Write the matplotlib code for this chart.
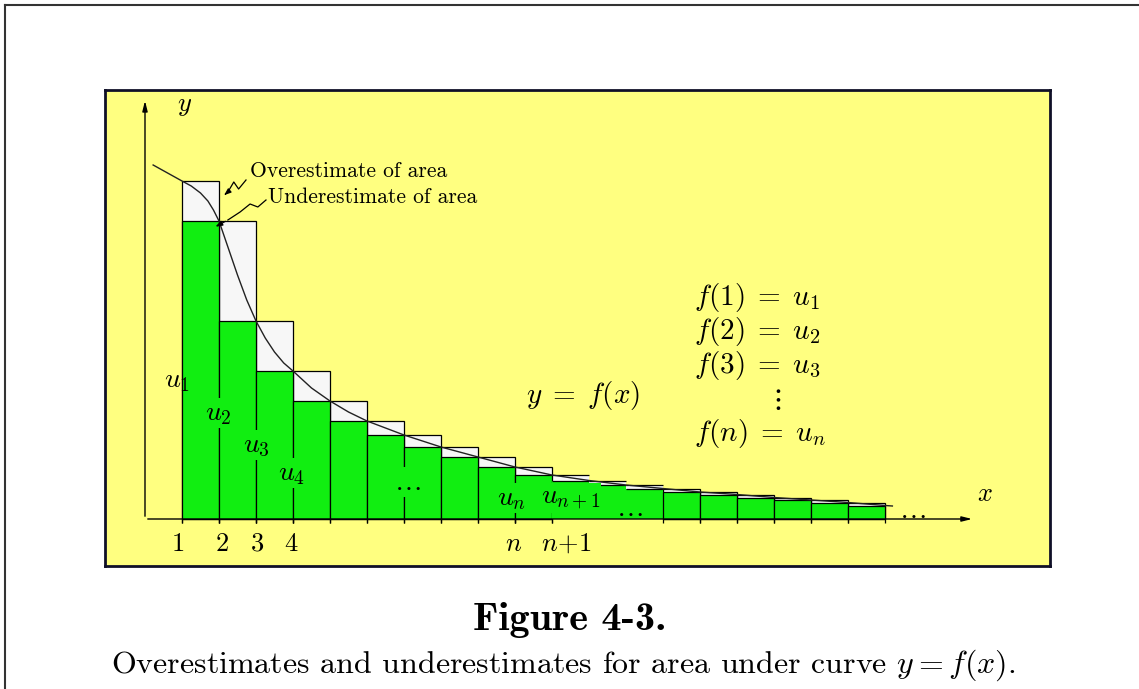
"""
Figure 4-3: overestimates / underestimates of the area under y = f(x).
"""
import matplotlib
matplotlib.use("Agg")
import matplotlib.pyplot as plt
from matplotlib.patches import Rectangle
from matplotlib.lines import Line2D

plt.rcParams["mathtext.fontset"] = "cm"
plt.rcParams["axes.unicode_minus"] = False

# ---- data ----
# bar edges along x (1, 2, ..., n, n+1, ..., tail after the dots)
EDGES = [1, 2, 3, 4, 5, 6, 7, 8, 9, 10, 11, 12, 13, 14, 15, 16, 17, 18, 19, 20]
# f(x) at each edge (u_1, u_2, ...)
U_VALS = [33.8, 29.8, 19.8, 14.8, 11.8, 9.8, 8.4, 7.2, 6.2, 5.2,
          4.4, 3.85, 3.4, 3.05, 2.7, 2.45, 2.15, 1.9, 1.65, 1.35]
# bars whose vertical sides are drawn (the ones under the "..." are not)
SIDES = [True] * 10 + [False, False, False] + [True] * 6

# curve y = f(x)
CURVE_X = [0.22, 1.0, 1.25, 1.5, 1.7, 1.85, 2.0, 2.25, 2.5, 2.75, 3.0,
           3.25, 3.5, 3.75, 4.0, 4.5, 5.0, 5.5, 6.0, 7.0, 8.0, 9.0, 10.0,
           11.0, 12.0, 13.0, 14.0, 15.0, 16.0, 17.0, 18.0, 19.0, 20.0, 20.2]
CURVE_Y = [35.4, 33.8, 33.3, 32.6, 31.8, 30.9, 29.8, 27.1, 24.4, 21.9, 19.8,
           18.1, 16.7, 15.6, 14.8, 13.1, 11.8, 10.7, 9.8, 8.4, 7.2, 6.2, 5.2,
           4.4, 3.85, 3.4, 3.05, 2.7, 2.45, 2.15, 1.9, 1.65, 1.35, 1.3]

TICK_POS = [1, 2, 3, 4, 10, 11]
TICK_LABEL_X = [0.89, 2.08, 3.03, 3.95, 9.95, 11.38]
TICK_LABELS = ["1", "2", "3", "4", r"$n$", r"$n\!+\!1$"]

U_LABELS = [r"$u_1$", r"$u_2$", r"$u_3$", r"$u_4$", r"$\ldots$",
            r"$u_n$", r"$u_{n+1}$", r"$\ldots$", r"$\ldots$"]
U_LABEL_X = [0.86, 1.97, 3.0, 3.95, 7.1, 9.92, 11.5, 13.1, 20.73]
U_LABEL_Y = [13.9, 10.6, 7.4, 4.6, 3.7, 2.1, 2.1, 1.1, 0.9]

EQS = [r"$f(1)\;=\;u_1$", r"$f(2)\;=\;u_2$", r"$f(3)\;=\;u_3$", r"$f(n)\;=\;u_n$"]
EQ_Y = [22.1, 18.7, 15.4, 8.6]

# wiggly pointer lines
OVER_X = [2.73, 2.53, 2.40, 2.24, 2.08]
OVER_Y = [33.9, 33.0, 33.7, 32.7, 32.2]
UNDER_X = [3.27, 3.05, 2.84, 2.57, 2.24, 1.84]
UNDER_Y = [31.9, 31.2, 31.5, 30.7, 29.9, 29.1]

YELLOW = "#FFFF80"
GREEN = "#11EE11"
PALE = "#F7F7F7"

W, H = 1139, 689
fig = plt.figure(figsize=(W / 100, H / 100), dpi=100)
fig.patch.set_facecolor("white")

# outer page frame (top and left only)
fig.add_artist(Line2D([5 / W, 1], [1 - 5 / H, 1 - 5 / H], color="#333333", lw=1.5))
fig.add_artist(Line2D([5 / W, 5 / W], [0, 1 - 5 / H], color="#333333", lw=1.5))

# panel: x data 1 at px 182, 37 px per unit; y data 0 at px 519, 10 px per unit
ax = fig.add_axes([105 / W, (H - 566) / H, (1050 - 105) / W, (566 - 90) / H])
ax.set_facecolor(YELLOW)
ax.set_xlim(-1.081, 24.46)
ax.set_ylim(-4.7, 42.9)
ax.set_xticks([])
ax.set_yticks([])
for sp in ax.spines.values():
    sp.set_color("#101028")
    sp.set_linewidth(2.0)

# bars
for i in range(len(EDGES) - 1):
    x0, x1 = EDGES[i], EDGES[i + 1]
    over, under = U_VALS[i], U_VALS[i + 1]
    if SIDES[i]:
        ax.add_patch(Rectangle((x0, 0), x1 - x0, over, facecolor=PALE,
                               edgecolor="black", lw=0.9, zorder=2))
        ax.add_patch(Rectangle((x0, 0), x1 - x0, under, facecolor=GREEN,
                               edgecolor="black", lw=0.9, zorder=3))
        ax.vlines([x0, x1], -0.35, 0, color="black", lw=0.9, zorder=3)
    else:
        ax.add_patch(Rectangle((x0, 0), x1 - x0, over, facecolor=PALE,
                               edgecolor="none", zorder=2))
        ax.add_patch(Rectangle((x0, 0), x1 - x0, under, facecolor=GREEN,
                               edgecolor="none", zorder=3))
        ax.hlines([over, under], x0, x1, color="black", lw=0.9, zorder=3)

# curve
ax.plot(CURVE_X, CURVE_Y, color="#222222", lw=1.0, zorder=4)

# axes with arrows
ax.annotate("", xy=(0, 42.1), xytext=(0, 0),
            arrowprops=dict(arrowstyle="-|>,head_length=0.6,head_width=0.15",
                            color="black", lw=1.0), zorder=5)
ax.annotate("", xy=(22.43, 0), xytext=(0, 0),
            arrowprops=dict(arrowstyle="-|>,head_length=0.6,head_width=0.15",
                            color="black", lw=1.0), zorder=5)
ax.text(1.08, 41.4, r"$y$", fontsize=19, ha="center", va="center")
ax.text(22.7, 2.5, r"$x$", fontsize=19, ha="center", va="center")

for xp in TICK_POS:
    ax.vlines(xp, -0.35, 0, color="black", lw=0.9, zorder=5)
for xl, lab in zip(TICK_LABEL_X, TICK_LABELS):
    ax.text(xl, -2.5, lab, fontsize=19, family="cmr10", ha="center", va="center")

for xl, yl, lab in zip(U_LABEL_X, U_LABEL_Y, U_LABELS):
    box = None
    if 1.5 < xl < 12:
        box = dict(facecolor=GREEN, edgecolor="none", pad=0.5)
    ax.text(xl, yl, lab, fontsize=20, ha="center", va="center", zorder=6,
            bbox=box)

ax.text(11.85, 12.4, r"$y\;=\;f(x)$", fontsize=21, ha="center", va="center")
for yq, eq in zip(EQ_Y, EQS):
    ax.text(14.85, yq, eq, fontsize=21, ha="left", va="center")
ax.text(17.05, 12.0, r"$\vdots$", fontsize=21, ha="center", va="center")

# pointer labels
ax.text(2.84, 34.8, "Overestimate of area", family="cmr10", fontsize=15.5,
        ha="left", va="center")
ax.text(3.32, 32.2, "Underestimate of area", family="cmr10", fontsize=15.5,
        ha="left", va="center")
ax.plot(OVER_X[:-1], OVER_Y[:-1], color="black", lw=0.9, zorder=6)
ax.annotate("", xy=(OVER_X[-1], OVER_Y[-1]), xytext=(OVER_X[-2], OVER_Y[-2]),
            arrowprops=dict(arrowstyle="-|>,head_length=0.4,head_width=0.15",
                            color="black", lw=0.9), zorder=6)
ax.plot(UNDER_X[:-1], UNDER_Y[:-1], color="black", lw=0.9, zorder=6)
ax.annotate("", xy=(UNDER_X[-1], UNDER_Y[-1]), xytext=(UNDER_X[-2], UNDER_Y[-2]),
            arrowprops=dict(arrowstyle="-|>,head_length=0.4,head_width=0.15",
                            color="black", lw=0.9), zorder=6)

# captions
fig.text(570 / W, 1 - 620 / H, "Figure 4-3.", family="cmb10", fontsize=29,
         ha="center", va="center")
fig.text(563 / W, 1 - 665 / H,
         r"Overestimates and underestimates for area under curve $y = f(x)$.",
         family="cmr10", fontsize=23.0, ha="center", va="center")

fig.savefig("out.png", dpi=100)
